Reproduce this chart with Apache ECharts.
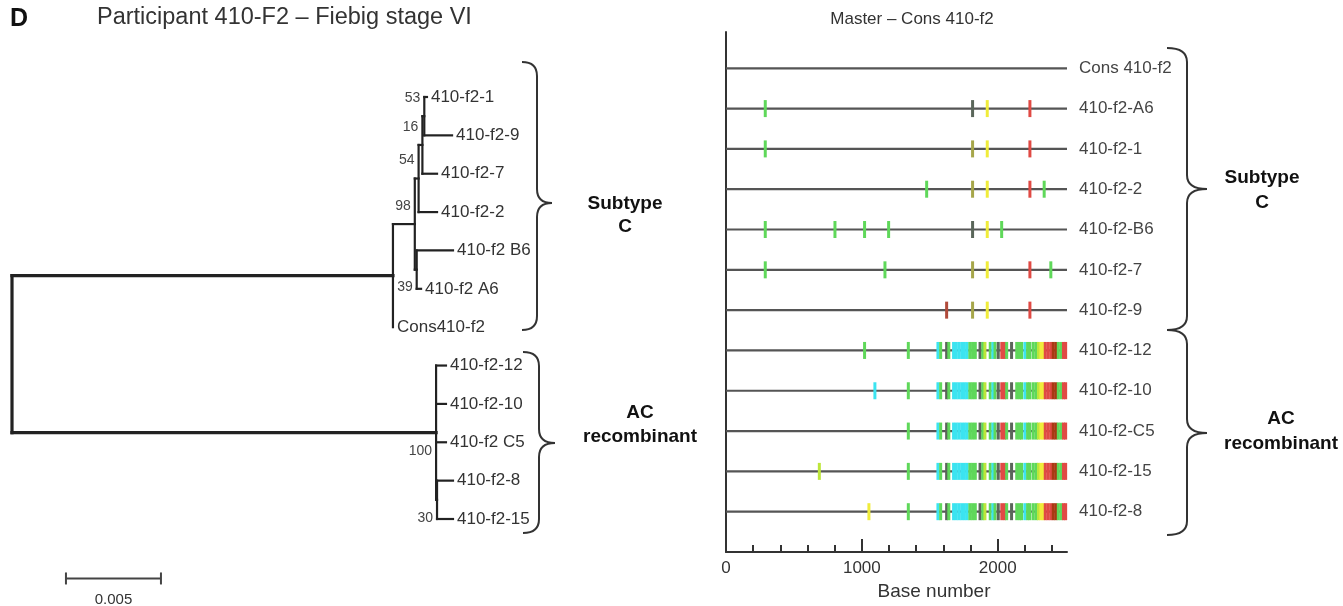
<!DOCTYPE html>
<html>
<head>
<meta charset="utf-8">
<script src="https://cdn.jsdelivr.net/npm/echarts@6/dist/echarts.min.js"></script>
<style>
html, body { margin: 0; padding: 0; background: #fff; }
#main { width: 1343px; height: 606px; }
</style>
</head>
<body>
<div id="main"></div>
<script>
// ---------- tree (left panel) ----------
// leaves, top to bottom
var leafNames = ['410-f2-1', '410-f2-9', '410-f2-7', '410-f2-2', '410-f2 B6', '410-f2 A6', 'Cons410-f2',
                 '410-f2-12', '410-f2-10', '410-f2 C5', '410-f2-8', '410-f2-15'];
// distance from root to each leaf tip
var leafDepth = [0.02184, 0.02316, 0.02237, 0.02237, 0.02321, 0.02153, 0.02005,
                 0.02284, 0.02284, 0.02284, 0.02321, 0.02321];
// internal nodes (children are leaf indexes or node names)
var nodeNames = ['n53', 'n16', 'n54', 'n39', 'n98', 'n1', 'n30', 'n100', 'root'];
var nodeDepth = [0.0217, 0.0216, 0.0214, 0.0213, 0.0212, 0.02005, 0.02237, 0.02232, 0];
var nodeKids = [[0, 1], ['n53', 2], ['n16', 3], [4, 5], ['n54', 'n39'], ['n98', 6], [10, 11], [7, 8, 9, 'n30'], ['n1', 'n100']];
var bootstrap = [53, 16, 54, 39, 98, null, 30, 100, null];
var bootSide = [-1, -1, -1, 1, -1, 0, 1, 1, 0];
var scaleBar = 0.005;

// ---------- highlighter (right panel) ----------
var rowNames = ['Cons 410-f2', '410-f2-A6', '410-f2-1', '410-f2-2', '410-f2-B6', '410-f2-7', '410-f2-9',
                '410-f2-12', '410-f2-10', '410-f2-C5', '410-f2-15', '410-f2-8'];
var seqLength = 2510;
var xLabels = [0, 1000, 2000];
var xMajor = [1000, 2000];
var xMinor = [200, 400, 600, 800, 1200, 1400, 1600, 1800, 2200, 2400];
// mutation marks: [base position, code]
var rowMuts = [
  [],
  [[289, 'A'], [1815, 'N'], [1923, 'G'], [2237, 'T']],
  [[289, 'A'], [1815, 'O'], [1923, 'G'], [2237, 'T']],
  [[1477, 'A'], [1815, 'O'], [1923, 'G'], [2237, 'T'], [2342, 'A']],
  [[289, 'A'], [802, 'A'], [1020, 'A'], [1197, 'A'], [1815, 'N'], [1923, 'G'], [2029, 'A']],
  [[289, 'A'], [1170, 'A'], [1815, 'O'], [1923, 'G'], [2237, 'T'], [2391, 'A']],
  [[1624, 'K'], [1815, 'O'], [1923, 'G'], [2237, 'T']],
  [[1020, 'A'], [1342, 'A']],
  [[1096, 'C'], [1342, 'A']],
  [[1342, 'A']],
  [[687, 'Y'], [1342, 'A']],
  [[1052, 'G'], [1342, 'A']]
];
// block shared by the AC recombinant sequences (rows 7-11)
var acBlock = [[1560, 'C'], [1580, 'A'], [1624, 'N'], [1640, 'A'], [1675, 'C'], [1695, 'C'], [1715, 'C'],
  [1735, 'C'], [1755, 'C'], [1775, 'C'], [1795, 'A'], [1815, 'A'], [1835, 'A'], [1870, 'N'], [1890, 'A'],
  [1906, 'Y'], [1945, 'A'], [1965, 'C'], [1980, 'A'], [2004, 'N'], [2030, 'T'], [2050, 'T'], [2066, 'A'],
  [2102, 'N'], [2140, 'A'], [2160, 'A'], [2176, 'A'], [2200, 'C'], [2220, 'A'], [2237, 'A'], [2262, 'A'],
  [2284, 'A'], [2300, 'Y'], [2318, 'G'], [2335, 'G'], [2350, 'T'], [2370, 'T'], [2390, 'T'], [2409, 'R'],
  [2428, 'R'], [2446, 'A'], [2466, 'A'], [2484, 'T'], [2500, 'T']];
var acRows = [7, 8, 9, 10, 11];

var codeColors = {
  A: '#5fd85a', C: '#3ce4f0', G: '#f0ec3a', T: '#e04a44', N: '#5a665a',
  R: '#a83a12', Y: '#bde63a', O: '#a6a64a', K: '#b04a3a'
};
var FONT = '"Liberation Sans", Arial, sans-serif';

// ---- build tree geometry ----
var nodeY = {};
function kidY(k) { return typeof k === 'number' ? k : nodeY[k]; }
function kidD(k) { return typeof k === 'number' ? leafDepth[k] : nodeDepth[nodeNames.indexOf(k)]; }
nodeNames.forEach(function (n, i) {
  var ks = nodeKids[i];
  nodeY[n] = (kidY(ks[0]) + kidY(ks[ks.length - 1])) / 2;
});
var treeSegs = [];
nodeNames.forEach(function (n, i) {
  var d = nodeDepth[i], ks = nodeKids[i];
  var w = n === 'root' ? 3.2 : 2.2;
  treeSegs.push([d, kidY(ks[0]), d, kidY(ks[ks.length - 1]), w]);
  ks.forEach(function (k) {
    treeSegs.push([d, kidY(k), kidD(k), kidY(k), w]);
  });
});
var leafData = leafNames.map(function (n, i) { return [leafDepth[i], i]; });
var bootData = [];
nodeNames.forEach(function (n, i) {
  if (bootstrap[i] != null) bootData.push([nodeDepth[i], nodeY[n], bootSide[i], bootstrap[i]]);
});

// ---- build highlighter marks ----
var markData = [];
rowMuts.forEach(function (list, r) {
  var all = acRows.indexOf(r) >= 0 ? list.concat(acBlock) : list;
  all.forEach(function (m) { markData.push({ value: [m[0], r], code: m[1] }); });
});
var rowData = rowNames.map(function (n, i) { return [i]; });

function txt(x, y, s, size, weight, align, color) {
  return { type: 'text', x: x, y: y, silent: true,
    style: { text: s, fontSize: size, fontWeight: weight || 'normal', fontFamily: FONT,
      fill: color || '#333', align: align || 'left', verticalAlign: 'middle' } };
}
// right-pointing curly brace
function brace(x, y1, y2, ym, w) {
  var m = x + w * 0.5, r = 14;
  var s = { stroke: '#333', lineWidth: 2, fill: null };
  function q(a, b, cx, cy, c, d) {
    return { type: 'bezierCurve', silent: true, shape: { x1: a, y1: b, cpx1: cx, cpy1: cy, x2: c, y2: d }, style: s };
  }
  function l(a, b, c, d) {
    return { type: 'line', silent: true, shape: { x1: a, y1: b, x2: c, y2: d }, style: s };
  }
  return { type: 'group', silent: true, children: [
    q(x, y1, m, y1, m, y1 + r),
    l(m, y1 + r, m, ym - r),
    q(m, ym - r, m, ym, x + w, ym),
    q(x + w, ym, m, ym, m, ym + r),
    l(m, ym + r, m, y2 - r),
    q(m, y2 - r, m, y2, x, y2)
  ] };
}
function tickAxis(values, len) {
  return { gridIndex: 1, type: 'value', min: 0, max: seqLength, position: 'bottom',
    axisLine: { show: false, onZero: false },
    axisTick: { show: true, inside: true, length: len, customValues: values, lineStyle: { color: '#333', width: 2 } },
    axisLabel: { show: false }, splitLine: { show: false } };
}

var chart = echarts.init(document.getElementById('main'));
var option = {
  animation: false,
  backgroundColor: '#fff',
  grid: [
    { left: 12, top: 97, width: 475, height: 422 },
    { left: 726, top: 32, width: 341, height: 520 }
  ],
  xAxis: [
    { gridIndex: 0, type: 'value', min: 0, max: 0.025, show: false },
    { gridIndex: 1, type: 'value', min: 0, max: seqLength, position: 'bottom',
      axisLine: { onZero: false, lineStyle: { color: '#333', width: 2 } },
      axisTick: { show: false },
      axisLabel: { customValues: xLabels, color: '#333', fontSize: 17, fontFamily: FONT, margin: 8,
        formatter: function (v) { return String(v); } },
      splitLine: { show: false } },
    tickAxis(xMinor, 7),
    tickAxis(xMajor, 13)
  ],
  yAxis: [
    { gridIndex: 0, type: 'value', min: 0, max: 11, inverse: true, show: false },
    { gridIndex: 1, type: 'value', min: -0.9, max: 12, inverse: true,
      axisLine: { show: true, onZero: false, lineStyle: { color: '#333', width: 2 } },
      axisTick: { show: false }, axisLabel: { show: false }, splitLine: { show: false } }
  ],
  series: [
    { type: 'custom', xAxisIndex: 0, yAxisIndex: 0, data: treeSegs, encode: { x: [0, 2], y: [1, 3] },
      renderItem: function (params, api) {
        var p1 = api.coord([api.value(0), api.value(1)]);
        var p2 = api.coord([api.value(2), api.value(3)]);
        return { type: 'line', shape: { x1: p1[0], y1: p1[1], x2: p2[0], y2: p2[1] },
          style: { stroke: '#222', lineWidth: api.value(4), lineCap: 'square' } };
      } },
    { type: 'custom', xAxisIndex: 0, yAxisIndex: 0, data: leafData, encode: { x: 0, y: 1 },
      renderItem: function (params, api) {
        var p = api.coord([api.value(0), api.value(1)]);
        return { type: 'text', x: p[0] + 4, y: p[1],
          style: { text: leafNames[params.dataIndex], fontSize: 17, fontFamily: FONT, fill: '#333',
            align: 'left', verticalAlign: 'middle' } };
      } },
    { type: 'custom', xAxisIndex: 0, yAxisIndex: 0, data: bootData, encode: { x: 0, y: 1 },
      renderItem: function (params, api) {
        var p = api.coord([api.value(0), api.value(1)]);
        return { type: 'text', x: p[0] - 4, y: p[1] + api.value(2) * 18,
          style: { text: String(api.value(3)), fontSize: 14, fontFamily: FONT, fill: '#444',
            align: 'right', verticalAlign: 'middle' } };
      } },
    { type: 'custom', xAxisIndex: 0, yAxisIndex: 0, data: [[0.00284, 12.55, 0.00284 + scaleBar]],
      encode: { x: [0, 2], y: 1 },
      renderItem: function (params, api) {
        var a = api.coord([api.value(0), api.value(1)]);
        var b = api.coord([api.value(2), api.value(1)]);
        var s = { stroke: '#444', lineWidth: 2 };
        return { type: 'group', children: [
          { type: 'line', shape: { x1: a[0], y1: a[1], x2: b[0], y2: b[1] }, style: s },
          { type: 'line', shape: { x1: a[0], y1: a[1] - 6, x2: a[0], y2: a[1] + 6 }, style: s },
          { type: 'line', shape: { x1: b[0], y1: b[1] - 6, x2: b[0], y2: b[1] + 6 }, style: s },
          { type: 'text', x: (a[0] + b[0]) / 2, y: a[1] + 21,
            style: { text: String(scaleBar), fontSize: 15, fontFamily: FONT, fill: '#333', align: 'center', verticalAlign: 'middle' } }
        ] };
      } },
    { type: 'custom', xAxisIndex: 1, yAxisIndex: 1, data: rowData, encode: { y: 0 },
      renderItem: function (params, api) {
        var r = api.value(0);
        var a = api.coord([0, r]), b = api.coord([seqLength, r]);
        return { type: 'group', children: [
          { type: 'line', shape: { x1: a[0], y1: a[1], x2: b[0], y2: b[1] }, style: { stroke: '#555', lineWidth: 2.2 } },
          { type: 'text', x: b[0] + 12, y: b[1],
            style: { text: rowNames[r], fontSize: 17, fontFamily: FONT, fill: '#444', align: 'left', verticalAlign: 'middle' } }
        ] };
      } },
    { type: 'custom', xAxisIndex: 1, yAxisIndex: 1, data: markData, encode: { x: 0, y: 1 }, z: 3,
      renderItem: function (params, api) {
        var p = api.coord([api.value(0), api.value(1)]);
        var code = markData[params.dataIndex].code;
        return { type: 'rect', shape: { x: p[0] - 1.5, y: p[1] - 8.5, width: 3, height: 17 },
          style: { fill: codeColors[code] } };
      } }
  ],
  graphic: [
    txt(10, 19, 'D', 25, 'bold', 'left', '#111'),
    txt(97, 18, 'Participant 410-F2 \u2013 Fiebig stage VI', 23.5, 'normal', 'left', '#333'),
    txt(912, 19, 'Master \u2013 Cons 410-f2', 17, 'normal', 'center', '#333'),
    txt(934, 592, 'Base number', 19, 'normal', 'center', '#333'),
    brace(522, 62, 330, 203, 30),
    brace(523, 352, 533, 443, 32),
    brace(1167, 48, 330, 189, 40),
    brace(1167, 330, 535, 433, 40),
    txt(625, 204, 'Subtype', 19, 'bold', 'center', '#111'),
    txt(625, 227, 'C', 19, 'bold', 'center', '#111'),
    txt(640, 413, 'AC', 19, 'bold', 'center', '#111'),
    txt(640, 437, 'recombinant', 19, 'bold', 'center', '#111'),
    txt(1262, 178, 'Subtype', 19, 'bold', 'center', '#111'),
    txt(1262, 203, 'C', 19, 'bold', 'center', '#111'),
    txt(1281, 419, 'AC', 19, 'bold', 'center', '#111'),
    txt(1281, 444, 'recombinant', 19, 'bold', 'center', '#111')
  ]
};
chart.setOption(option);
window.onresize = function () { chart.resize(); };
</script>
</body>
</html>
